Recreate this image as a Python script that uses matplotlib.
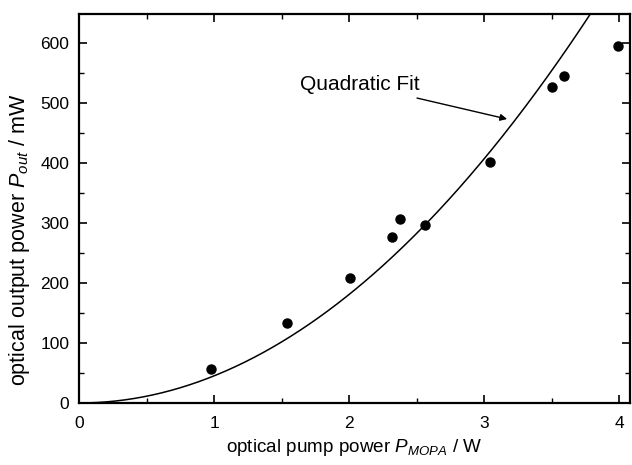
import numpy as np
import matplotlib
matplotlib.use('Agg')
import matplotlib.pyplot as plt
from matplotlib.ticker import MultipleLocator

plt.rcParams['font.family'] = ['Liberation Sans', 'DejaVu Sans']
plt.rcParams['mathtext.fontset'] = 'custom'
plt.rcParams['mathtext.it'] = 'Liberation Sans:italic'
plt.rcParams['mathtext.rm'] = 'Liberation Sans'

# measured points
pump_w = [0.98, 1.54, 2.01, 2.32, 2.38, 2.56, 3.04, 3.50, 3.59, 3.99]
out_mw = [57, 133, 208, 277, 307, 297, 402, 527, 545, 595]

# quadratic fit y = a*x^2
fit_a = 45.2

fig = plt.figure(figsize=(6.32, 4.65), dpi=100)
ax = fig.add_axes([79/632, 62/465, 551/632, 389/465])

xf = np.linspace(0, 4.08, 300)
ax.plot(xf, fit_a*xf**2, color='black', lw=1.1)
ax.plot(pump_w, out_mw, 'o', color='black', ms=6.5)

ax.annotate('Quadratic Fit', xy=(3.17, 473), xytext=(1.64, 530),
            fontsize=15, va='center', ha='left',
            arrowprops=dict(arrowstyle='-|>', color='black', lw=1.0,
                            mutation_scale=10, shrinkA=3, shrinkB=0))

ax.set_xlim(0, 4.08)
ax.set_ylim(0, 648)
ax.xaxis.set_major_locator(MultipleLocator(1))
ax.xaxis.set_minor_locator(MultipleLocator(0.5))
ax.yaxis.set_major_locator(MultipleLocator(100))
ax.yaxis.set_minor_locator(MultipleLocator(50))
ax.tick_params(which='both', direction='in', top=True, right=True, labelsize=12.5)
ax.tick_params(axis='x', pad=9)
ax.tick_params(axis='y', pad=7)
ax.tick_params(which='major', length=6, width=1.2)
ax.tick_params(which='minor', length=3.5, width=1.0)
for s in ax.spines.values():
    s.set_linewidth(1.6)

ax.set_xlabel('optical pump power $P_{MOPA}$ / W', fontsize=13.6)
ax.xaxis.set_label_coords(0.5, -0.088)
ax.set_ylabel('optical output power $P_{out}$ / mW', fontsize=15.5)
ax.yaxis.set_label_coords(-0.085, 0.42)

fig.savefig('out.png', dpi=100)
